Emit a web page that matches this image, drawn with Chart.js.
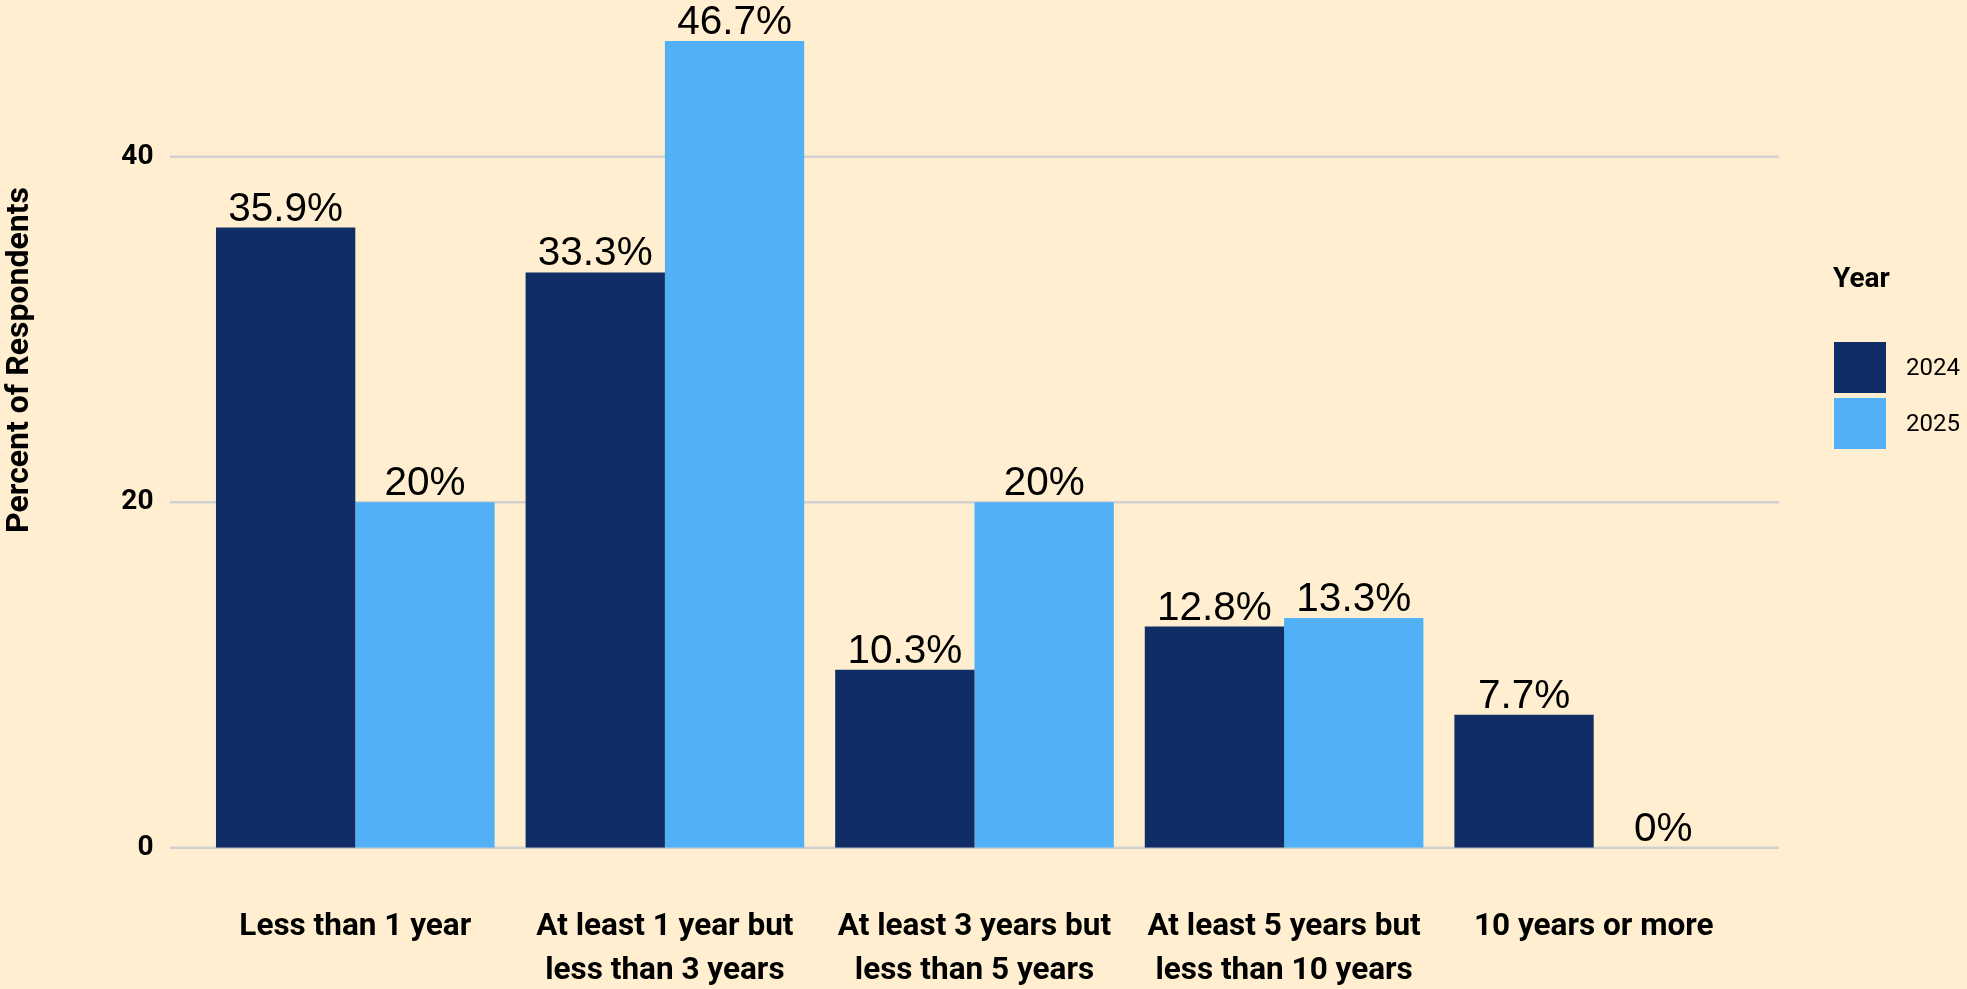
<!DOCTYPE html>
<html>
<head>
<meta charset="utf-8">
<script src="https://cdn.jsdelivr.net/npm/chart.js@4"></script>
<style>
  html, body { margin: 0; padding: 0; background: #ffefd0; }
  canvas { display: block; }
</style>
</head>
<body>
<canvas id="chart" width="1967" height="989"></canvas>
<script>
// data
const categories = [
  ["Less than 1 year"],
  ["At least 1 year but", "less than 3 years"],
  ["At least 3 years but", "less than 5 years"],
  ["At least 5 years but", "less than 10 years"],
  ["10 years or more"]
];
const years = ["2024", "2025"];
const values2024 = [35.9, 33.3, 10.3, 12.8, 7.7];
const values2025 = [20, 46.7, 20, 13.3, 0];
const yTicks = [0, 20, 40];
const legendTitle = "Year";
const yTitle = "Percent of Respondents";

const colors = ["#112d66", "#52b1f6"];

// grey gridlines, a bit wider than the plot area like ggplot
const gridPlugin = {
  id: 'grid',
  beforeDatasetsDraw(chart) {
    const ctx = chart.ctx, a = chart.chartArea, y = chart.scales.y;
    ctx.save();
    ctx.strokeStyle = '#d1d1d1';
    ctx.lineWidth = 2.5;
    yTicks.forEach(v => {
      const py = y.getPixelForValue(v);
      ctx.beginPath();
      ctx.moveTo(a.left - 30.5, py);
      ctx.lineTo(a.right + 30.5, py);
      ctx.stroke();
    });
    ctx.restore();
  }
};

// value labels above bars
const labelPlugin = {
  id: 'valueLabels',
  afterDatasetsDraw(chart) {
    const ctx = chart.ctx;
    ctx.save();
    ctx.font = '40.5px "Liberation Sans", Arial, sans-serif';
    ctx.fillStyle = '#000';
    ctx.textAlign = 'center';
    ctx.textBaseline = 'alphabetic';
    chart.data.datasets.forEach((ds, i) => {
      chart.getDatasetMeta(i).data.forEach((bar, j) => {
        ctx.fillText(ds.data[j] + '%', bar.x, bar.y - 7);
      });
    });
    ctx.restore();
  }
};

// legend and y title
const extrasPlugin = {
  id: 'extras',
  afterDraw(chart) {
    const ctx = chart.ctx;
    ctx.save();
    ctx.fillStyle = '#000';
    ctx.textAlign = 'left';
    ctx.textBaseline = 'middle';
    ctx.font = 'bold 28px Roboto';
    ctx.fillText(legendTitle, 1833, 280);
    chart.data.datasets.forEach((ds, i) => {
      const top = 342 + i * 56;
      ctx.fillStyle = ds.backgroundColor;
      ctx.fillRect(1834, top, 52, 51);
      ctx.fillStyle = '#000';
      ctx.font = '24px Roboto';
      ctx.fillText(ds.label, 1906, top + 27);
    });
    ctx.translate(20, 360);
    ctx.rotate(-Math.PI / 2);
    ctx.textAlign = 'center';
    ctx.font = 'bold 32px Roboto';
    ctx.fillText(yTitle, 0, 0);
    ctx.restore();
  }
};

new Chart(document.getElementById('chart').getContext('2d'), {
  type: 'bar',
  data: {
    labels: categories,
    datasets: [
      { label: years[0], data: values2024, backgroundColor: colors[0] },
      { label: years[1], data: values2025, backgroundColor: colors[1] }
    ]
  },
  options: {
    responsive: false,
    animation: false,
    devicePixelRatio: 1,
    layout: { padding: { top: 0, right: 218.5, bottom: 0, left: 0 } },
    datasets: { bar: { categoryPercentage: 0.9, barPercentage: 1.0 } },
    plugins: { legend: { display: false }, tooltip: { enabled: false } },
    scales: {
      x: {
        grid: { display: false },
        border: { display: false },
        ticks: {
          color: '#000',
          padding: 49,
          maxRotation: 0,
          font: { family: 'Roboto', weight: 'bold', size: 31.5, lineHeight: 44 / 31.5 }
        },
        afterFit(s) { s.height = 141.3; s.paddingLeft = 0; s.paddingRight = 0; }
      },
      y: {
        min: 0,
        max: 49.07,
        grid: { display: false },
        border: { display: false },
        afterBuildTicks(s) { s.ticks = yTicks.map(v => ({ value: v })); },
        ticks: {
          color: '#000',
          padding: 39,
          font: { family: 'Roboto', weight: 'bold', size: 28 }
        },
        afterFit(s) { s.width = 200.5; s.paddingTop = 0; s.paddingBottom = 0; }
      }
    }
  },
  plugins: [gridPlugin, labelPlugin, extrasPlugin]
});
</script>
</body>
</html>
